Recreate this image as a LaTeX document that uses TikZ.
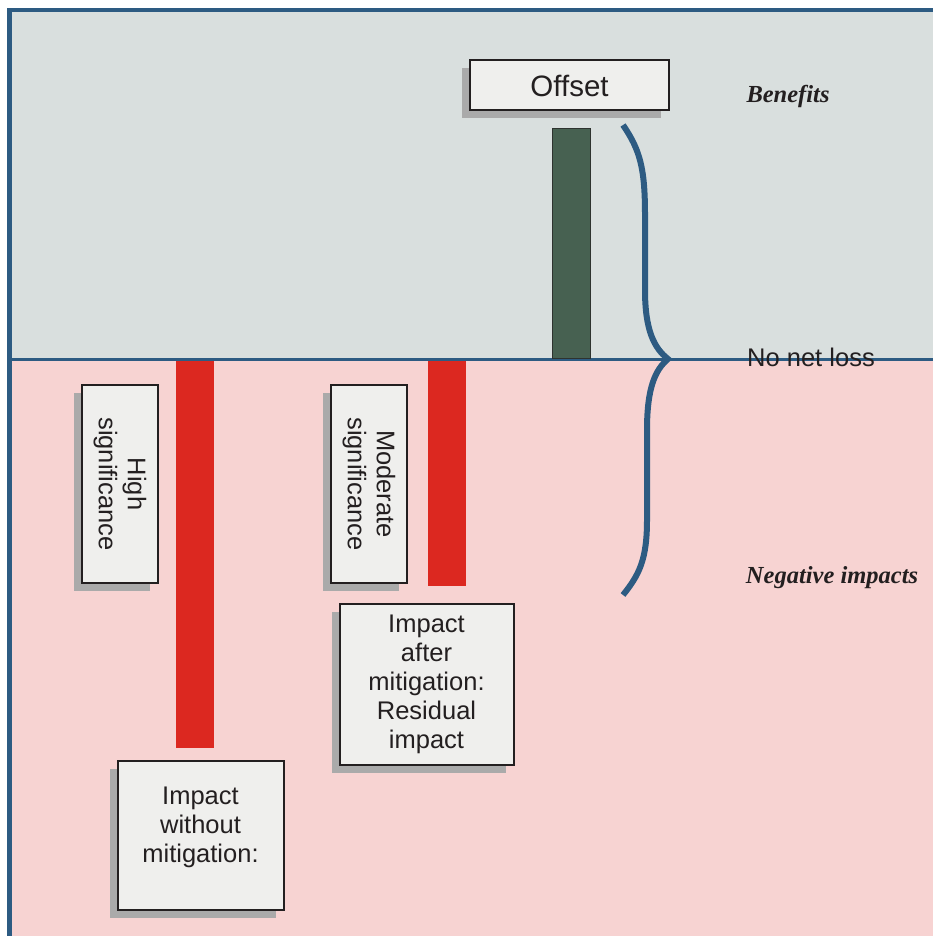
\documentclass[tikz,border=0pt]{standalone}
\usepackage{fontspec}
\setmainfont{Liberation Sans}
\newfontfamily\serifbi{Liberation Serif}
\usetikzlibrary{shadows}
\definecolor{bggrey}{HTML}{D9DFDE}
\definecolor{bgpink}{HTML}{F7D3D2}
\definecolor{frameblue}{HTML}{2D5B82}
\definecolor{barred}{HTML}{DC2820}
\definecolor{bargreen}{HTML}{476151}
\definecolor{boxfill}{HTML}{EFEFED}
\definecolor{shadowgrey}{HTML}{AAAAAA}
\definecolor{inkc}{HTML}{231F20}
\tikzset{
  labelbox/.style={draw=inkc, line width=2pt, fill=boxfill, inner sep=0pt,
    text=inkc, align=center, font=\fontsize{25.5}{29}\selectfont,
    drop shadow={shadow xshift=-8pt, shadow yshift=-8pt, fill=shadowgrey, opacity=1}},
  plaintext/.style={text=inkc, align=center, font=\fontsize{25.5}{29}\selectfont, inner sep=0pt},
  sidelabel/.style={text=inkc, font=\serifbi\bfseries\itshape\fontsize{24.5}{28}\selectfont, inner sep=0pt}
}
\begin{document}
\begin{tikzpicture}[x=1pt, y=-1pt]
\useasboundingbox (0,0) rectangle (933,936);
% backgrounds
\fill[white] (0,0) rectangle (933,936);
\fill[bggrey] (11,12) rectangle (933,359);
\fill[bgpink] (11,359) rectangle (933,936);
% frame
\draw[frameblue, line width=4.5pt] (9.5,936) -- (9.5,10) -- (933,10);
% no net loss line
\coordinate (lineL) at (11,359);
\coordinate (lineR) at (933,359);
\draw[frameblue, line width=3pt] (lineL) -- (lineR);
% bars
\fill[bargreen] (552,128) rectangle (590,358);
\draw[inkc!70!bargreen, line width=0.6pt] (552,128) rectangle (590,358);
\fill[barred] (176,361) rectangle (214,748);
\fill[barred] (428,361) rectangle (466,586);
% brace
\draw[frameblue, line width=6pt, line join=miter, miter limit=20]
  (623,125) .. controls (640,150) and (645,168) .. (645,215)
  -- (645,290) .. controls (645,330) and (654,348) .. (668,359)
  .. controls (655,370) and (647,388) .. (647,430)
  -- (647,520) .. controls (647,560) and (639,575) .. (623,595);
% boxes
\node[labelbox, minimum width=199pt, minimum height=50pt, font=\fontsize{29.5}{33}\selectfont] (offset) at (569.5,85.5) {\raisebox{-1.5pt}{Offset}};
\node[labelbox, minimum width=76pt, minimum height=198pt] (high) at (120,484) {};
\node[plaintext, rotate=-90] (hight) at (high.center) {High\\significance};
\node[labelbox, minimum width=76pt, minimum height=198pt] (mod) at (369,484) {};
\node[plaintext, rotate=-90] (modt) at (mod.center) {Moderate\\significance};
\node[labelbox, minimum width=174pt, minimum height=161pt] (after) at (426.5,684) {Impact\\after\\mitigation:\\Residual\\impact};
\node[labelbox, minimum width=166pt, minimum height=149pt] (without) at (200.5,835.5) {};
\node[plaintext] (withoutt) at (200.5,827) {Impact\\without\\mitigation:};
% side labels
\node[plaintext] (nnl) at (811,357) {No net loss};
\node[sidelabel] (benefits) at (788,96) {Benefits};
\node[sidelabel] (negimp) at (832,578) {Negative impacts};
\end{tikzpicture}
\end{document}
